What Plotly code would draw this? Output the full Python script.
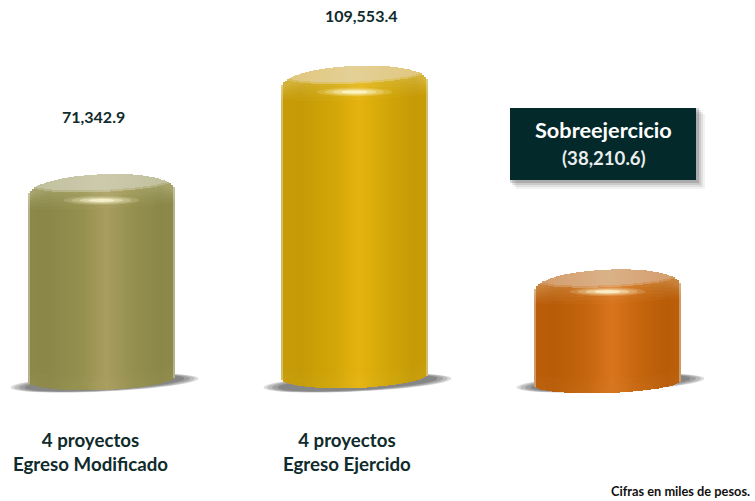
import numpy as np
import plotly.graph_objects as go

# ---- data ----
categories = ["4 proyectos<br>Egreso Modificado", "4 proyectos<br>Egreso Ejercido", ""]
values = [71342.9, 109553.4, 38210.6]
value_labels = ["71,342.9", "109,553.4", ""]
box_title = "Sobreejercicio"
box_value = "(38,210.6)"
note = "Cifras en miles de pesos."

dark_colors = ["#8a8748", "#c59a06", "#b85c08"]
mid_colors = ["#95904e", "#d3a708", "#c6660e"]
light_colors = ["#a89c5e", "#e5b30f", "#d8741c"]
cap_colors = ["#bfbe9c", "#e0c67c", "#d39a68"]

# ---- scale: pixels of the 755x501 page mapped to the axes ----
W, H = 755, 501
SLOT = 253.0
X0 = 101.5
SCALE = 302 / 109553.4
ZERO_PX = 376.0


def vy(px):
    return (ZERO_PX - np.asarray(px, float)) / SCALE


def dx(px):
    return np.asarray(px, float) / SLOT


BASE_PX = [379.0, 376.0, 383.0]
DEPTH_PX = [11.0, 12.0, 10.0]
HALF_W = 73.5
N = 74
STRIP = 2 * HALF_W / N


def hex_rgb(c):
    return np.array([int(c[i:i + 2], 16) for i in (1, 3, 5)], float)


def mix(a, b, k):
    return a + (b - a) * k


def css(rgb):
    r, g, b = np.clip(rgb, 0, 255).round().astype(int)
    return f"rgb({r},{g},{b})"


STOP_T = [-1.0, -0.97, -0.72, -0.3, 0.07, 0.42, 0.8, 0.97, 1.0]
STOP_K = [0.25, 0.05, 0.0, 0.45, 1.0, 0.5, 0.0, 0.1, 0.2]
WARM = np.array([255.0, 255, 225])


def body_color(t, i):
    d, m, l = hex_rgb(dark_colors[i]), hex_rgb(mid_colors[i]), hex_rgb(light_colors[i])
    k = np.interp(t, STOP_T, STOP_K)
    col = mix(d, m, k / 0.5) if k < 0.5 else mix(m, l, (k - 0.5) / 0.5)
    if abs(t) > 0.975:
        col = mix(col, np.array([225.0, 225, 215]), 0.45)
    return col


def outline_top(t, top_px):
    """pixel y of the silhouette's upper edge"""
    return top_px + 20 - 20 * (1 - np.abs(t) ** 2.2) ** (1 / 2.2) - 3 * t


def outline_bottom(t, base_px, depth):
    return base_px + depth * np.sqrt(np.clip(1 - t ** 2, 0, 1)) - 2.5 * t


traces = []
shapes = []
annotations = []

ts = (np.arange(N) + 0.5) / N * 2 - 1
for i, v in enumerate(values):
    base_px = BASE_PX[i]
    top_px = base_px - v * SCALE - 8  # cap's highest point
    xs = i + dx(ts * HALF_W)
    width = dx(STRIP * 1.08)
    up = outline_top(ts, top_px)
    low = outline_bottom(ts, base_px, DEPTH_PX[i])
    body = [body_color(t, i) for t in ts]

    def strip_layer(y_top, y_low, cols, keep=None):
        keep = np.ones_like(ts, bool) if keep is None else keep
        traces.append(go.Bar(x=xs[keep], y=vy(y_top[keep]) - vy(y_low[keep]), base=vy(y_low[keep]),
                             width=width, marker=dict(color=[css(c) for c, k in zip(cols, keep) if k], line_width=0),
                             hoverinfo="skip", showlegend=False))

    # whole silhouette with the horizontal shading
    strip_layer(up, low, body)
    # soft foot, opaque tints of the same shading
    strip_layer(low - 14, low, [mix(c, WARM, 0.012) for c in body])
    strip_layer(low - 8, low, [mix(c, WARM, 0.024) for c in body])
    # rim: lighter band fading downward
    for depth_px, tint in [(34, 0.025), (30, 0.05), (26, 0.08), (22, 0.11), (18, 0.14),
                           (15, 0.17), (12, 0.2), (9, 0.23)]:
        rim = up + depth_px * (0.35 + 0.65 * np.sqrt(1 - ts ** 2))
        strip_layer(up, rim, [mix(c, WARM, tint) for c in body])
    # cap: pale ellipse with a blurred lower edge
    u = np.clip(ts / 0.94, -1, 1)
    cap_low = top_px + 8 + 8 * np.sqrt(1 - u ** 2) - 3 * ts
    cap_rgb = hex_rgb(cap_colors[i])
    cap_cols = [mix(cap_rgb, np.array([236.0, 232, 210]), 0.3 * (1 - abs(t))) for t in ts]
    edge_cols = [mix(a, b, 0.5) for a, b in zip(cap_cols, [mix(c, WARM, 0.23) for c in body])]
    strip_layer(up, cap_low + 1.5, edge_cols, keep=cap_low + 1.5 > up)
    strip_layer(up, cap_low - 0.5, cap_cols, keep=cap_low - 0.5 > up)

    # glint under the cap
    gy = top_px + (26 if i < 2 else 22)
    for hw, hh, a in [(38, 4.4, 0.16), (30, 3.4, 0.24), (22, 2.4, 0.42), (13, 1.6, 0.7)]:
        shapes.append(dict(type="circle", xref="x", yref="y", layer="above", line_width=0,
                           fillcolor=f"rgba(255,250,215,{a})",
                           x0=i + dx(-hw), x1=i + dx(hw),
                           y0=float(vy(gy + hh)), y1=float(vy(gy - hh))))

    # ground shadow: tilted ellipse, nested for a soft rim
    for sc, a in [(1.0, 0.18), (0.96, 0.2), (0.91, 0.22), (0.85, 0.25)]:
        ang = np.linspace(0, 2 * np.pi, 50)
        sx = i + dx(3 + 94 * sc * np.cos(ang))
        sy = vy(383 + 8.5 * sc * np.sin(ang) - 4.5 * np.cos(ang))
        path = "M " + " L ".join(f"{a_:.5f},{b_:.1f}" for a_, b_ in zip(sx, sy)) + " Z"
        shapes.append(dict(type="path", path=path, xref="x", yref="y", layer="below",
                           line_width=0, fillcolor=f"rgba(60,60,60,{a})"))

TEXT = "#0f2b2b"
FONT = "Lato, 'Open Sans', sans-serif"
LABEL_SHIFT = [-11.5, -7.5]
VALUE_POS = [(-8.5, 116), (6.5, 15)]
for i, (cat, lab) in enumerate(zip(categories, value_labels)):
    if cat:
        annotations.append(dict(x=i, xshift=LABEL_SHIFT[i], y=float(vy(452)), xref="x", yref="y",
                                text=f"<b>{cat}</b>", showarrow=False,
                                font=dict(family=FONT, size=18.7, color=TEXT),
                                yanchor="middle", xanchor="center"))
    if lab:
        annotations.append(dict(x=i, xshift=VALUE_POS[i][0], y=float(vy(VALUE_POS[i][1])), xref="x", yref="y",
                                text=f"<b>{lab}</b>", showarrow=False,
                                font=dict(family=FONT, size=16, color=TEXT),
                                yanchor="middle", xanchor="center"))


def paper_x(px):
    return px / W


def paper_y(px):
    return 1 - px / H


# callout box with its soft shadow
for off, a in [(9, 0.06), (7, 0.09), (5, 0.12), (3, 0.18)]:
    shapes.append(dict(type="rect", xref="paper", yref="paper", layer="above", line_width=0,
                       fillcolor=f"rgba(40,40,40,{a})",
                       x0=paper_x(510 + off - 3), x1=paper_x(696 + off),
                       y0=paper_y(180 + off), y1=paper_y(108 + off - 3)))
shapes.append(dict(type="rect", xref="paper", yref="paper", layer="above", line_width=0,
                   fillcolor="#04292a", x0=paper_x(510), x1=paper_x(696),
                   y0=paper_y(180), y1=paper_y(108)))
annotations.append(dict(x=paper_x(603), y=paper_y(129.5), xref="paper", yref="paper", showarrow=False,
                        xanchor="center", yanchor="middle",
                        text=f"<b>{box_title}</b>", font=dict(family=FONT, size=21.7, color="#ffffff")))
annotations.append(dict(x=paper_x(604), y=paper_y(158), xref="paper", yref="paper", showarrow=False,
                        xanchor="center", yanchor="middle",
                        text=f"<b>{box_value}</b>", font=dict(family=FONT, size=18.6, color="#e9eded")))
annotations.append(dict(x=paper_x(752), y=paper_y(491), xref="paper", yref="paper", showarrow=False,
                        xanchor="right", yanchor="middle", text=f"<b>{note}</b>",
                        font=dict(family=FONT, size=12.8, color="#111111")))

fig = go.Figure(traces)
fig.update_layout(
    width=W, height=H, margin=dict(l=0, r=0, t=0, b=0),
    paper_bgcolor="white", plot_bgcolor="white",
    barmode="overlay", bargap=0, showlegend=False,
    shapes=shapes, annotations=annotations,
    xaxis=dict(visible=False, range=[-X0 / SLOT, (W - X0) / SLOT], fixedrange=True),
    yaxis=dict(visible=False, range=[float(vy(H)), float(vy(0))], fixedrange=True),
)
fig.write_html("out.html", config=dict(displayModeBar=False),
               post_script="document.body.style.margin='0';")
